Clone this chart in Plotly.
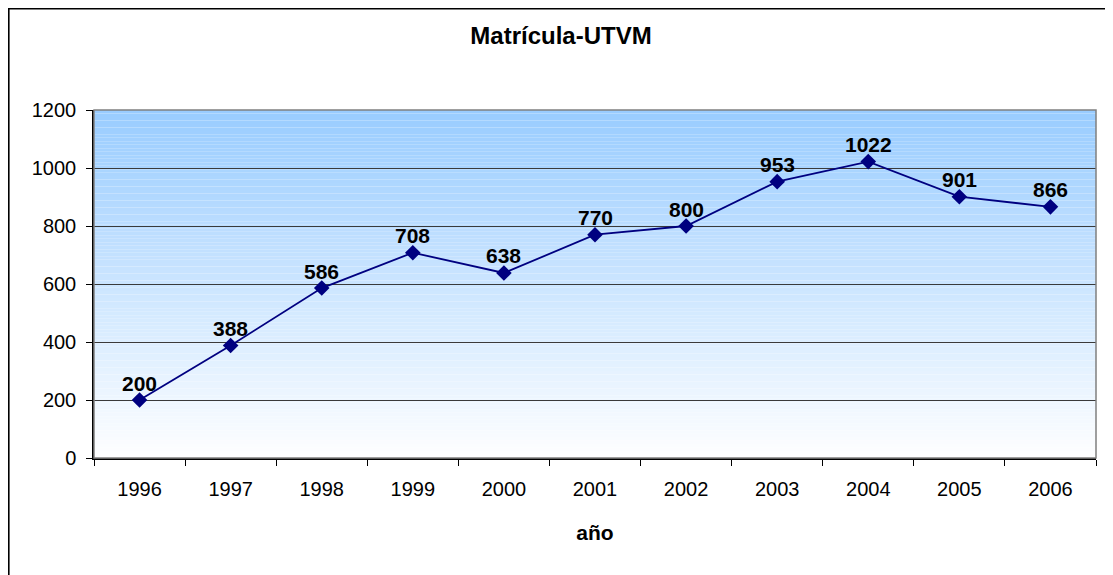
import plotly.graph_objects as go

years = ["1996", "1997", "1998", "1999", "2000", "2001", "2002", "2003", "2004", "2005", "2006"]
matricula = [200, 388, 586, 708, 638, 770, 800, 953, 1022, 901, 866]
y_ticks = [0, 200, 400, 600, 800, 1000, 1200]

FONT = "Liberation Sans, Arial"
W, H = 1105, 567          # page body has an 8px margin
ML, MR, MT, MB = 86, 17, 102, 117
PW, PH = W - ML - MR, H - MT - MB

fig = go.Figure()
fig.add_trace(go.Scatter(
    x=years, y=matricula, mode="lines+markers",
    line=dict(color="#000080", width=1.8),
    marker=dict(symbol="diamond", size=12, color="#000080"),
    cliponaxis=False, showlegend=False,
))

# data labels (category axis: annotation x given as category index)
annotations = [
    dict(x=i, y=v, xref="x", yref="y", text="<b>%d</b>" % v, showarrow=False,
         yanchor="middle", xanchor="center", yshift=17,
         font=dict(family=FONT, size=21, color="black"))
    for i, v in enumerate(matricula)
]

# gradient background of the plot area
shapes = []
n = 100
top = (153, 204, 255)
for i in range(n):
    t = i / n
    c = tuple(int(round(top[k] + (255 - top[k]) * t)) for k in range(3))
    shapes.append(dict(type="rect", xref="x domain", yref="y domain",
                       x0=0, x1=1, y0=1 - (i + 1) / n, y1=1 - i / n,
                       fillcolor="rgb(%d,%d,%d)" % c, line=dict(width=0), layer="below"))
# plot area border (grey)
shapes.append(dict(type="rect", xref="x domain", yref="y domain", x0=0, x1=1, y0=0, y1=1,
                   line=dict(color="#808080", width=1.5), layer="above"))
# outer chart border (top-left corner visible only)
shapes.append(dict(type="rect", xref="paper", yref="paper",
                   x0=(0.8 - ML) / PW, x1=1.1, y0=-0.6, y1=(MT + PH - 0.8) / PH,
                   line=dict(color="black", width=1.6), layer="above"))

fig.update_layout(
    width=W, height=H,
    margin=dict(l=ML, r=MR, t=MT, b=MB),
    paper_bgcolor="white", plot_bgcolor="rgba(0,0,0,0)",
    title=dict(text="<b>Matrícula-UTVM</b>", x=553 / W, xanchor="center", xref="container",
               y=1 - 28 / H, yanchor="middle",
               font=dict(family=FONT, size=24, color="black")),
    font=dict(family=FONT, size=20, color="black"),
    shapes=shapes,
    annotations=annotations,
    xaxis=dict(type="category", range=[-0.5, 10.5], showgrid=False,
               showline=True, linecolor="black", linewidth=1.5,
               ticks="outside", ticklen=6, tickcolor="black", tickson="boundaries",
               tickfont=dict(size=20), zeroline=False, ticklabelstandoff=12,
               title=dict(text="<b>año</b>", font=dict(size=21), standoff=27)),
    yaxis=dict(range=[0, 1200], tickvals=y_ticks, showgrid=True, gridcolor="#3a3a3a",
               gridwidth=1, showline=True, linecolor="black", linewidth=1.5,
               ticks="outside", ticklen=6, tickcolor="black", zeroline=False,
               ticklabelstandoff=6, tickfont=dict(size=20)),
)

fig.write_html("out.html")
